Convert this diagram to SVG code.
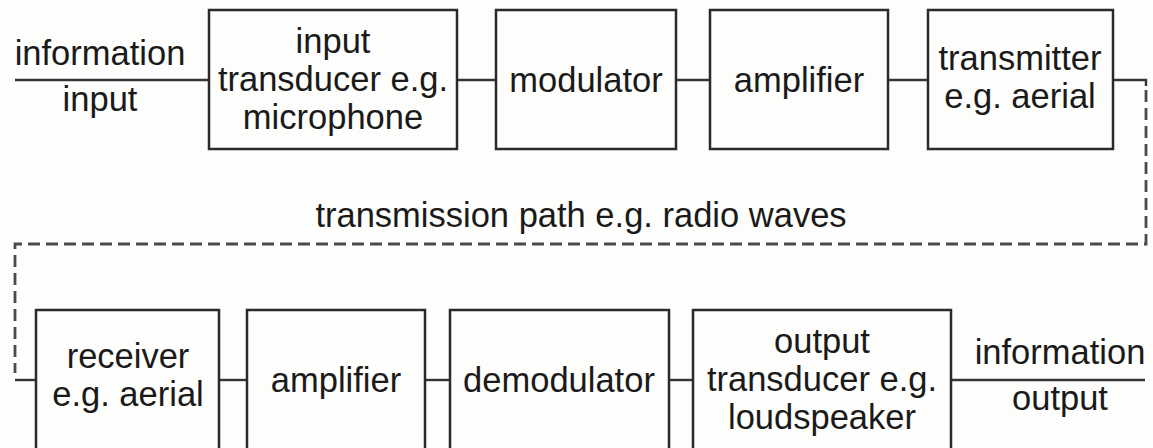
<svg xmlns="http://www.w3.org/2000/svg" width="1153" height="448" viewBox="0 0 1153 448">
  <style>
    .box { fill: none; stroke: #2a2a2a; stroke-width: 2.5; }
    .wire { fill: none; stroke: #353535; stroke-width: 2.4; }
    .path { fill: none; stroke: #4a4a4a; stroke-width: 2.8; stroke-dasharray: 12 6; }
    text { font-family: "Liberation Sans", Arial, sans-serif; font-size: 34.5px; fill: #1a1a1a; text-anchor: middle; }
  </style>
  <rect width="1153" height="448" fill="#fdfdfb"/>

  <!-- connectors -->
  <g id="connectors">
    <line class="wire" x1="15" y1="80" x2="209" y2="80"/>
    <line class="wire" x1="457" y1="80" x2="496" y2="80"/>
    <line class="wire" x1="676" y1="80" x2="710" y2="80"/>
    <line class="wire" x1="888" y1="80" x2="928" y2="80"/>
    <polyline class="wire" points="1113,80 1146,80 1146,86"/>
    <polyline class="path" points="1146,90 1146,244 15,244 15,373"/>
    <line class="wire" x1="15" y1="380" x2="36" y2="380"/>
    <line class="wire" x1="219" y1="380" x2="247" y2="380"/>
    <line class="wire" x1="425" y1="380" x2="450" y2="380"/>
    <line class="wire" x1="669" y1="380" x2="693" y2="380"/>
    <line class="wire" x1="951" y1="380" x2="1145" y2="380"/>
  </g>

  <!-- free labels -->
  <g id="labels">
    <text x="100" y="65">information</text>
    <text x="100" y="111">input</text>
    <text x="581" y="227">transmission path e.g. radio waves</text>
    <text x="1060" y="364">information</text>
    <text x="1060" y="410">output</text>
  </g>

  <!-- top row -->
  <g id="input-transducer">
    <rect class="box" x="209" y="10" width="248" height="139"/>
    <text x="333" y="53">input</text>
    <text x="333" y="91">transducer e.g.</text>
    <text x="333" y="129">microphone</text>
  </g>
  <g id="modulator">
    <rect class="box" x="496" y="10" width="180" height="139"/>
    <text x="586" y="92">modulator</text>
  </g>
  <g id="amplifier-tx">
    <rect class="box" x="710" y="10" width="178" height="139"/>
    <text x="799" y="92">amplifier</text>
  </g>
  <g id="transmitter">
    <rect class="box" x="928" y="10" width="185" height="139"/>
    <text x="1020" y="70">transmitter</text>
    <text x="1020" y="108">e.g. aerial</text>
  </g>

  <!-- bottom row -->
  <g id="receiver">
    <rect class="box" x="36" y="310" width="183" height="142"/>
    <text x="128" y="368">receiver</text>
    <text x="128" y="406">e.g. aerial</text>
  </g>
  <g id="amplifier-rx">
    <rect class="box" x="247" y="310" width="178" height="142"/>
    <text x="336" y="392">amplifier</text>
  </g>
  <g id="demodulator">
    <rect class="box" x="450" y="310" width="219" height="142"/>
    <text x="559" y="392">demodulator</text>
  </g>
  <g id="output-transducer">
    <rect class="box" x="693" y="310" width="258" height="142"/>
    <text x="822" y="353">output</text>
    <text x="822" y="391">transducer e.g.</text>
    <text x="822" y="429">loudspeaker</text>
  </g>
</svg>
